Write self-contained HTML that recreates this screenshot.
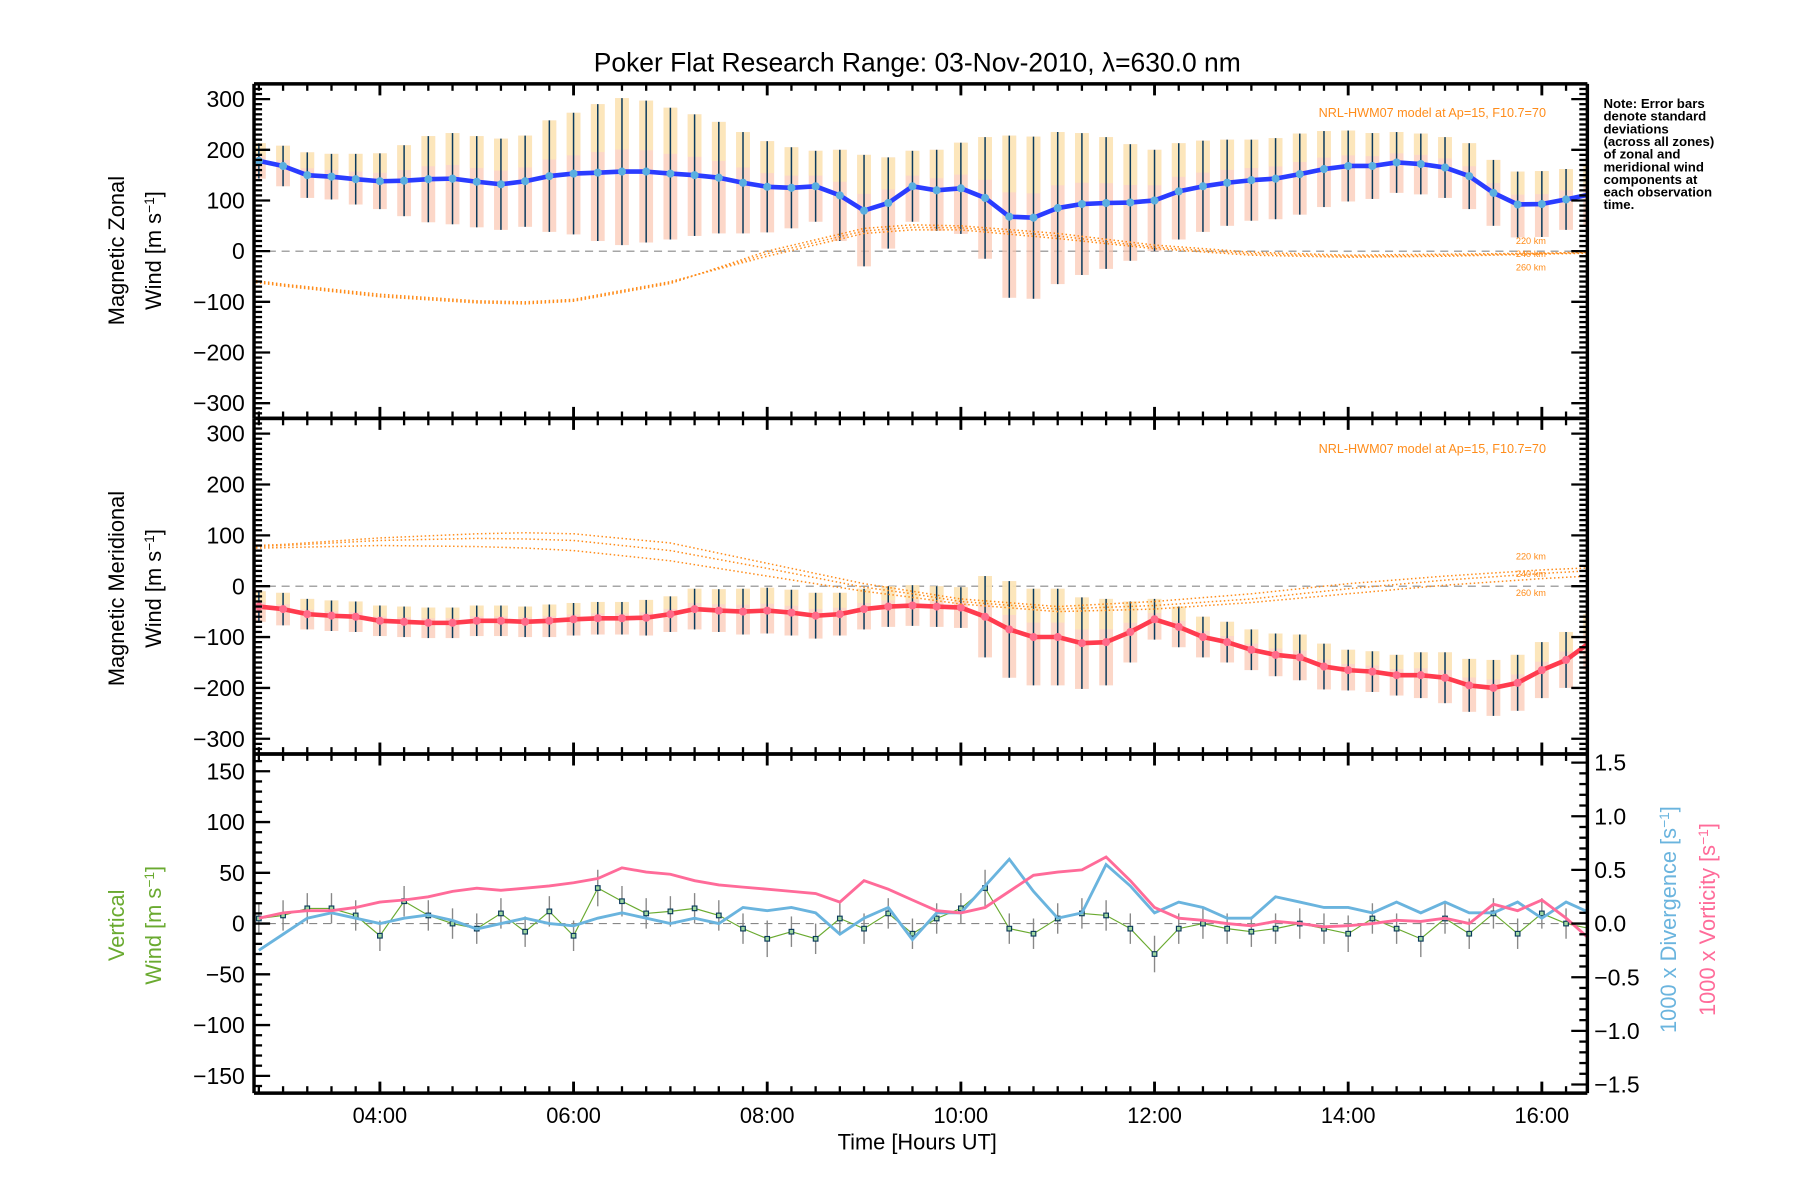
<!DOCTYPE html>
<html><head><meta charset="utf-8"><title>Poker Flat winds</title>
<style>
html,body{margin:0;padding:0;background:#fff;}
svg{display:block;font-family:"Liberation Sans",sans-serif;}
</style></head>
<body>
<svg id="chart" width="1800" height="1200" viewBox="0 0 1566 1044" xmlns="http://www.w3.org/2000/svg">
<rect x="0" y="0" width="1566" height="1044" fill="#fff"/>
<text x="798" y="62" font-size="23" text-anchor="middle">Poker Flat Research Range: 03-Nov-2010, λ=630.0 nm</text>
<g id="marks"></g>
<g id="axes"></g>
<text transform="translate(108,218) rotate(-90)" font-size="19" text-anchor="middle">Magnetic Zonal</text>
<text transform="translate(140,218) rotate(-90)" font-size="19" text-anchor="middle">Wind [m s<tspan baseline-shift="super" font-size="12">−1</tspan>]</text>
<text transform="translate(108,512) rotate(-90)" font-size="19" text-anchor="middle">Magnetic Meridional</text>
<text transform="translate(140,512) rotate(-90)" font-size="19" text-anchor="middle">Wind [m s<tspan baseline-shift="super" font-size="12">−1</tspan>]</text>
<text transform="translate(108,805) rotate(-90)" font-size="19" text-anchor="middle" fill="#6aaa30">Vertical</text>
<text transform="translate(140,805) rotate(-90)" font-size="19" text-anchor="middle" fill="#6aaa30">Wind [m s<tspan baseline-shift="super" font-size="12">−1</tspan>]</text>
<text transform="translate(1458,800) rotate(-90)" font-size="19" text-anchor="middle" fill="#6ab4de">1000 x Divergence [s<tspan baseline-shift="super" font-size="12">−1</tspan>]</text>
<text transform="translate(1492,800) rotate(-90)" font-size="19" text-anchor="middle" fill="#ff6b99">1000 x Vorticity [s<tspan baseline-shift="super" font-size="12">−1</tspan>]</text>
<text x="798" y="1000" font-size="19" text-anchor="middle">Time [Hours UT]</text>
<text x="1345" y="102" font-size="11" fill="#ff8c1a" text-anchor="end">NRL-HWM07 model at Ap=15, F10.7=70</text>
<text x="1345" y="394" font-size="11" fill="#ff8c1a" text-anchor="end">NRL-HWM07 model at Ap=15, F10.7=70</text>
<g font-size="11.5" font-weight="bold">
<text x="1395" y="94">Note: Error bars</text>
<text x="1395" y="105">denote standard</text>
<text x="1395" y="116">deviations</text>
<text x="1395" y="127">(across all zones)</text>
<text x="1395" y="138">of zonal and</text>
<text x="1395" y="149">meridional wind</text>
<text x="1395" y="160">components at</text>
<text x="1395" y="171">each observation</text>
<text x="1395" y="182">time.</text>
</g>
</svg>
<script>
// ---- data ----
const times = [2.75,3,3.25,3.5,3.75,4,4.25,4.5,4.75,5,5.25,5.5,5.75,6,6.25,6.5,6.75,7,7.25,7.5,7.75,8,8.25,8.5,8.75,9,9.25,9.5,9.75,10,10.25,10.5,10.75,11,11.25,11.5,11.75,12,12.25,12.5,12.75,13,13.25,13.5,13.75,14,14.25,14.5,14.75,15,15.25,15.5,15.75,16,16.25,16.5];
const zonalWind = [178,168,150,147,142,138,139,142,143,137,132,138,148,153,155,157,157,153,150,145,135,127,125,128,110,80,95,128,120,124,105,68,66,85,93,95,96,100,118,128,135,140,143,152,162,168,168,175,172,165,148,115,92,93,102,112];
const zonalErr = [35,40,45,45,50,55,70,85,90,90,90,90,110,120,135,145,140,130,120,110,100,90,80,70,90,110,90,70,80,90,120,160,160,150,140,130,115,100,95,90,85,80,80,80,75,70,65,60,60,60,65,65,65,65,60,60];
const meridWind = [-40,-45,-55,-58,-60,-68,-70,-72,-72,-68,-68,-70,-68,-65,-63,-63,-62,-55,-45,-48,-50,-48,-52,-58,-55,-45,-40,-38,-40,-42,-60,-85,-100,-100,-112,-110,-90,-65,-80,-100,-110,-125,-135,-140,-158,-165,-168,-175,-175,-180,-195,-200,-190,-165,-145,-110];
const meridErr = [30,32,30,30,30,30,30,30,30,30,30,30,32,32,32,32,35,35,40,42,45,45,45,45,42,40,40,40,40,40,80,95,95,95,90,85,60,40,40,40,40,40,42,45,45,40,40,40,45,50,52,55,55,55,55,55];
const vertWind = [5,8,15,15,8,-12,22,8,0,-5,10,-8,12,-12,35,22,10,12,15,8,-5,-15,-8,-15,5,-5,10,-10,5,15,35,-5,-10,5,10,8,-5,-30,-5,0,-5,-8,-5,0,-5,-10,5,-5,-15,5,-10,10,-10,10,0,-5];
const vertErr = [15,15,15,15,15,15,15,15,15,15,15,15,15,15,18,15,15,15,15,15,15,18,15,15,15,15,15,15,15,15,18,15,15,15,15,15,15,18,15,15,15,15,15,15,15,18,15,15,18,15,15,15,15,15,15,15];
const divergence = [-0.25,-0.1,0.05,0.1,0.05,0.0,0.05,0.08,0.03,-0.05,0.0,0.05,0.0,-0.02,0.05,0.1,0.05,0.0,0.05,0.0,0.15,0.12,0.15,0.1,-0.1,0.05,0.15,-0.15,0.1,0.1,0.35,0.6,0.3,0.05,0.1,0.55,0.35,0.1,0.2,0.15,0.05,0.05,0.25,0.2,0.15,0.15,0.1,0.2,0.1,0.2,0.1,0.1,0.2,0.05,0.2,0.1];
const vorticity = [0.05,0.1,0.12,0.12,0.15,0.2,0.22,0.25,0.3,0.33,0.31,0.33,0.35,0.38,0.42,0.52,0.48,0.46,0.4,0.36,0.34,0.32,0.3,0.28,0.2,0.4,0.32,0.22,0.12,0.1,0.15,0.3,0.45,0.48,0.5,0.62,0.4,0.15,0.05,0.03,0.0,-0.02,0.02,0.0,-0.03,-0.02,0.0,0.03,0.02,0.05,0.0,0.18,0.12,0.22,0.05,-0.15];
const modelTimes = [2.72,3,4,5,5.5,6,7,8,9,9.5,10,11,12,13,14,15,16,16.47];
const hwmZonal220 = [-58,-65,-85,-98,-100,-95,-60,-10,35,42,42,25,5,-8,-12,-10,-6,-4];
const hwmZonal240 = [-60,-67,-88,-100,-102,-97,-62,-5,40,47,46,30,8,-5,-10,-8,-5,-3];
const hwmZonal260 = [-62,-69,-90,-102,-104,-99,-64,0,45,52,50,35,12,-2,-8,-6,-4,-2];
const hwmMerid220 = [80,82,95,103,105,103,85,45,5,-10,-25,-40,-30,-15,5,20,32,36];
const hwmMerid240 = [78,80,90,94,93,90,70,35,-2,-15,-30,-45,-38,-25,-5,12,25,30];
const hwmMerid260 = [75,76,80,78,75,70,50,20,-10,-22,-35,-50,-45,-32,-15,2,15,20];
const xTickVals = [4,6,8,10,12,14,16];
const xTickLabels = ["04:00","06:00","08:00","10:00","12:00","14:00","16:00"];
const windTicks = [-300,-200,-100,0,100,200,300];
const vertTicks = [-150,-100,-50,0,50,100,150];
const rightTicks = [-1.5,-1.0,-0.5,0.0,0.5,1.0,1.5];

// ---- scales ----
const X0=221,X1=1381,T0=2.7,T1=16.47;
function xs(t){return X0+(t-T0)*(X1-X0)/(T1-T0);}
const panels=[{top:73,bot:364,min:-330,max:330},{top:364,bot:656,min:-330,max:330},{top:656,bot:951,min:-167,max:167}];
function ys(p,v){const P=panels[p];return P.bot-(v-P.min)*(P.bot-P.top)/(P.max-P.min);}
const RMIN=-1.58,RMAX=1.58;
function yr(v){const P=panels[2];return P.bot-(v-RMIN)*(P.bot-P.top)/(RMAX-RMIN);}

const NS='http://www.w3.org/2000/svg';
const marks=document.getElementById('marks');
const axes=document.getElementById('axes');
function mk(tag,parent,attrs){const e=document.createElementNS(NS,tag);for(const k in attrs)e.setAttribute(k,attrs[k]);parent.appendChild(e);return e;}
const defs=mk('defs',document.getElementById('chart'),{});
panels.forEach((P,i)=>{const c=mk('clipPath',defs,{id:'clip'+i});mk('rect',c,{x:X0,y:P.top,width:X1-X0,height:P.bot-P.top});});

function group(name,p){const g=mk('g',marks,{'clip-path':'url(#clip'+p+')'});


return g;}

function pathFrom(ts,vs,yf){return ts.map((t,i)=>(i?'L':'M')+xs(t).toFixed(1)+','+yf(vs[i]).toFixed(1)).join(' ');}

[0,1,2].forEach(p=>{const l=mk('line',marks,{x1:X0,x2:X1,y1:ys(p,0),y2:ys(p,0),stroke:'#888','stroke-dasharray':'7,5','stroke-width':1});

});

function windPanel(p,vals,errs,lineCol,dotCol,name){
  const gb=group(name+'-error-bands',p);
  times.forEach((t,i)=>{
    const x=xs(t),y1=ys(p,vals[i]+errs[i]),y2=ys(p,vals[i]-errs[i]);
    const r=mk('rect',gb,{x:x-6,y:y1,width:12,height:y2-y1,fill:'#fbc6b0',opacity:0.7});
    
    
    const r2=mk('rect',gb,{x:x-6,y:y1,width:12,height:(y2-y1)*0.35,fill:'#fbeab8',opacity:0.8});
    
    
    const l=mk('line',gb,{x1:x,x2:x,y1:y1,y2:y2,stroke:'#0b3a5c','stroke-width':1.3});
    
    
  });
  const gl=group(name+'-line',p);
  const pl=mk('path',gl,{d:pathFrom(times,vals,v=>ys(p,v)),fill:'none',stroke:lineCol,'stroke-width':4,'stroke-linejoin':'round'});
  
  
  times.forEach((t,i)=>{const c=mk('circle',gl,{cx:xs(t),cy:ys(p,vals[i]),r:3.5,fill:dotCol});
    
    });
}
function model(p,arr,name){
  const g=group(name,p);
  const pa=mk('path',g,{d:pathFrom(modelTimes,arr,v=>ys(p,v)),fill:'none',stroke:'#ff8c1a','stroke-width':1.3,'stroke-dasharray':'1.3,2.2'});
  
  
}
windPanel(0,zonalWind,zonalErr,'#2a3cff','#5aaee0','zonal');
model(0,hwmZonal220,'hwm-zonal-220');model(0,hwmZonal240,'hwm-zonal-240');model(0,hwmZonal260,'hwm-zonal-260');
windPanel(1,meridWind,meridErr,'#ff3b4e','#ff6b8a','meridional');
model(1,hwmMerid220,'hwm-meridional-220');model(1,hwmMerid240,'hwm-meridional-240');model(1,hwmMerid260,'hwm-meridional-260');

[[0,'220 km',hwmZonal220],[0,'240 km',hwmZonal240],[0,'260 km',hwmZonal260],[1,'220 km',hwmMerid220],[1,'240 km',hwmMerid240],[1,'260 km',hwmMerid260]].forEach((d,i)=>{
  const off=[-12,0,12][i%3];
  const t=mk('text',marks,{x:1345,y:ys(d[0],d[2][d[2].length-2])+off+3,'font-size':8,fill:'#ff8c1a','text-anchor':'end'});
  t.textContent=d[1];
  
  
});

const gv=group('vertical-wind',2);
times.forEach((t,i)=>{const x=xs(t);const l=mk('line',gv,{x1:x,x2:x,y1:ys(2,vertWind[i]+vertErr[i]),y2:ys(2,vertWind[i]-vertErr[i]),stroke:'#888','stroke-width':1.2});
  
  });
const vl=mk('path',gv,{d:pathFrom(times,vertWind,v=>ys(2,v)),fill:'none',stroke:'#6aaa30','stroke-width':1});


times.forEach((t,i)=>{const r=mk('rect',gv,{x:xs(t)-2,y:ys(2,vertWind[i])-2,width:4,height:4,fill:'#9fd8a0',stroke:'#0b3a5c','stroke-width':1});
  
  });
const gd=group('divergence',2);
const dl=mk('path',gd,{d:pathFrom(times,divergence,yr),fill:'none',stroke:'#6ab4de','stroke-width':2.5});


const gw=group('vorticity',2);
const wl=mk('path',gw,{d:pathFrom(times,vorticity,yr),fill:'none',stroke:'#ff6b99','stroke-width':2.5});



function ln(x1,y1,x2,y2,w,name){const l=mk('line',axes,{x1:x1,y1:y1,x2:x2,y2:y2,stroke:'#000','stroke-width':w});

}
function txt(x,y,s,anchor,size,name){const t=mk('text',axes,{x:x,y:y,'font-size':size,'text-anchor':anchor});t.textContent=s;

}
panels.forEach((P,p)=>{
  ln(X0,P.top,X1,P.top,3,'panel-frame');ln(X0,P.bot,X1,P.bot,3,'panel-frame');
  ln(X0,P.top,X0,P.bot,3,'panel-frame');ln(X1,P.top,X1,P.bot,3,'panel-frame');
  for(let m=Math.ceil(T0*4);m<=Math.floor(T1*4);m++){const t=m/4;const major=(m%8===0);const L=major?10:6;const x=xs(t);
    ln(x,P.top,x,P.top+L,major?2.5:2,'x-tick');ln(x,P.bot,x,P.bot-L,major?2.5:2,'x-tick');}
  const minorStep=10,majors=p<2?windTicks:vertTicks;
  for(let v=Math.ceil(P.min/minorStep)*minorStep;v<=P.max;v+=minorStep){
    const isMaj=majors.indexOf(v)>=0;const y=ys(p,v);const L=isMaj?14:7;
    ln(X0,y,X0+L,y,2,'y-tick');
    if(p<2) ln(X1,y,X1-L,y,2,'y-tick');
  }
  majors.forEach(v=>txt(X0-8,ys(p,v)+7,String(v).replace('-','−'),'end',20,'y-tick-label'));
});
for(let k=-15;k<=15;k++){const v=k/10;const y=yr(v);const isMaj=(k%5===0);ln(X1,y,X1-(isMaj?14:7),y,2,'right-y-tick');}
rightTicks.forEach(v=>txt(X1+6,yr(v)+7,(v<0?'−':'')+Math.abs(v).toFixed(1),'start',20,'right-y-tick-label'));
xTickVals.forEach((t,i)=>txt(xs(t),977,xTickLabels[i],'middle',19,'x-tick-label'));
</script>
</body></html>
